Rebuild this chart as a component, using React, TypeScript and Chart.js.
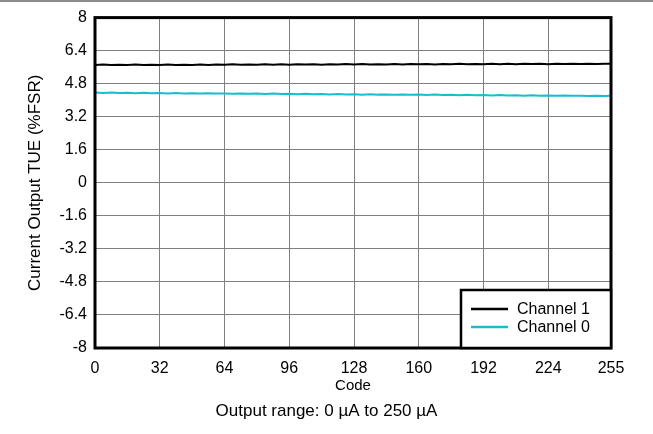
import React, { useEffect, useRef } from "react";
import { Chart, registerables } from "chart.js";

Chart.register(...registerables);

const codes = [
  0, 4, 8, 12, 16, 20, 24, 28, 32, 36, 40, 44, 48, 52, 56, 60,
  64, 68, 72, 76, 80, 84, 88, 92, 96, 100, 104, 108, 112, 116, 120, 124,
  128, 132, 136, 140, 144, 148, 152, 156, 160, 164, 168, 172, 176, 180, 184, 188,
  192, 196, 200, 204, 208, 212, 216, 220, 224, 228, 232, 236, 240, 244, 248, 252,
  255,
];

const channel1 = [
  5.71, 5.73, 5.70, 5.72, 5.71, 5.73, 5.70, 5.72, 5.71, 5.73, 5.71, 5.72, 5.71, 5.73, 5.71, 5.73,
  5.72, 5.74, 5.72, 5.73, 5.72, 5.74, 5.72, 5.74, 5.72, 5.74, 5.73, 5.74, 5.72, 5.74, 5.73, 5.75,
  5.73, 5.75, 5.73, 5.74, 5.73, 5.75, 5.73, 5.75, 5.74, 5.75, 5.73, 5.75, 5.74, 5.76, 5.74, 5.75,
  5.74, 5.76, 5.74, 5.76, 5.74, 5.76, 5.75, 5.76, 5.74, 5.76, 5.75, 5.77, 5.75, 5.76, 5.75, 5.77,
  5.76,
];

const channel0 = [
  4.37, 4.35, 4.37, 4.35, 4.36, 4.34, 4.36, 4.34, 4.35, 4.33, 4.35, 4.33, 4.34, 4.32, 4.34, 4.32,
  4.33, 4.31, 4.33, 4.31, 4.32, 4.30, 4.32, 4.30, 4.31, 4.29, 4.31, 4.29, 4.30, 4.28, 4.30, 4.28,
  4.29, 4.27, 4.29, 4.27, 4.28, 4.26, 4.28, 4.26, 4.27, 4.25, 4.27, 4.25, 4.26, 4.24, 4.26, 4.24,
  4.25, 4.23, 4.25, 4.23, 4.24, 4.22, 4.24, 4.22, 4.23, 4.21, 4.23, 4.21, 4.22, 4.20, 4.22, 4.20,
  4.21,
];

const xTicks = [0, 32, 64, 96, 128, 160, 192, 224, 255];
const yTicks = [-8, -6.4, -4.8, -3.2, -1.6, 0, 1.6, 3.2, 4.8, 6.4, 8];

const seriesNames = ["Channel 1", "Channel 0"];
const seriesColors = ["#000000", "#17BECF"];
const xTitle = "Code";
const yTitle = "Current Output TUE (%FSR)";
const footText = "Output range: 0 \u00B5A to 250 \u00B5A";

const FONT = "'Liberation Sans', Arial, sans-serif";

export default function App() {
  const ref = useRef<HTMLCanvasElement | null>(null);

  useEffect(() => {
    if (!ref.current) return;
    const framePlugin = {
      id: "frame",
      afterDraw(chart: any) {
        const { ctx, chartArea: a } = chart;
        ctx.save();
        // top gray rule
        ctx.fillStyle = "#8c8c8c";
        ctx.fillRect(0, 0, chart.width, 2);
        // plot frame
        ctx.strokeStyle = "#000";
        ctx.lineWidth = 3;
        ctx.strokeRect(a.left, a.top, a.right - a.left, a.bottom - a.top);
        // legend box
        const bw = 150, bh = 58;
        const bx = a.right - bw, by = a.bottom - bh;
        ctx.fillStyle = "#fff";
        ctx.fillRect(bx, by, bw, bh);
        ctx.strokeStyle = "#000";
        ctx.lineWidth = 2.5;
        ctx.strokeRect(bx, by, bw, bh);
        ctx.font = `16px ${FONT}`;
        ctx.textBaseline = "middle";
        ctx.textAlign = "left";
        seriesNames.forEach((n, i) => {
          const y = by + 19 + i * 18;
          ctx.strokeStyle = seriesColors[i];
          ctx.lineWidth = 2.5;
          ctx.beginPath();
          ctx.moveTo(bx + 10, y);
          ctx.lineTo(bx + 47, y);
          ctx.stroke();
          ctx.fillStyle = "#000";
          ctx.fillText(n, bx + 56, y + 1);
        });
        // footer caption, centred on the page
        ctx.font = `17px ${FONT}`;
        ctx.textAlign = "center";
        ctx.fillStyle = "#000";
        ctx.fillText(footText, chart.width / 2, 411);
        ctx.restore();
      },
    };

    const chart = new Chart(ref.current, {
      type: "line",
      data: {
        datasets: seriesNames.map((name, i) => ({
          label: name,
          data: codes.map((c, j) => ({ x: c, y: (i === 0 ? channel1 : channel0)[j] })),
          borderColor: seriesColors[i],
          borderWidth: 2,
          pointRadius: 0,
          tension: 0,
        })),
      },
      options: {
        animation: false,
        responsive: false,
        layout: { padding: { left: 0, right: 42, top: 17, bottom: 39 } },
        plugins: {
          legend: { display: false },
          tooltip: { enabled: false },
          title: { display: false },
        },
        scales: {
          x: {
            type: "linear",
            min: 0,
            max: 255,
            afterBuildTicks: (s: any) => {
              s.ticks = xTicks.map((v) => ({ value: v }));
            },
            afterFit: (s: any) => {
              s.height = 47;
            },
            ticks: {
              color: "#000",
              font: { family: FONT, size: 16 },
              padding: 11,
              maxRotation: 0,
              callback: (v: any) => String(v),
            },
            grid: { color: "#7f7f7f", lineWidth: 1, drawTicks: false },
            border: { display: false },
            title: {
              display: true,
              text: xTitle,
              color: "#000",
              font: { family: FONT, size: 15 },
              padding: { top: 0, bottom: 0 },
            },
          },
          y: {
            type: "linear",
            min: -8,
            max: 8,
            afterBuildTicks: (s: any) => {
              s.ticks = yTicks.map((v) => ({ value: v }));
            },
            afterFit: (s: any) => {
              s.width = 95;
            },
            ticks: {
              color: "#000",
              font: { family: FONT, size: 16 },
              padding: 8,
              callback: (v: any) => String(Math.round(Number(v) * 10) / 10),
            },
            grid: { color: "#7f7f7f", lineWidth: 1, drawTicks: false },
            border: { display: false },
            title: {
              display: true,
              text: yTitle,
              color: "#000",
              font: { family: FONT, size: 17 },
              padding: { top: 25, bottom: 0 },
            },
          },
        },
      },
      plugins: [framePlugin],
    } as any);
    return () => chart.destroy();
  }, []);

  return (
    <div style={{ position: "fixed", left: 0, top: 0, width: 653, height: 434, background: "#fff" }}>
      <canvas ref={ref} width={653} height={434} style={{ width: 653, height: 434 }} />
    </div>
  );
}
